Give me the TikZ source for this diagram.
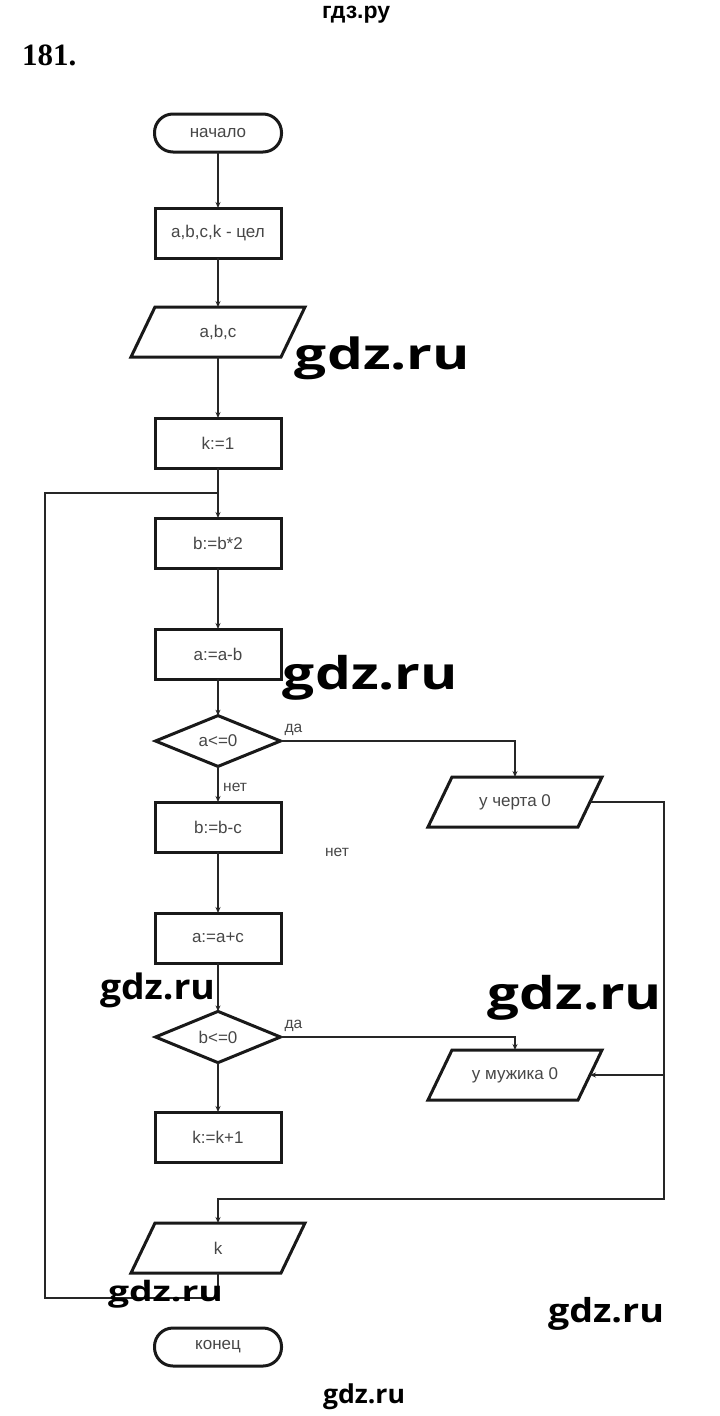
\documentclass[tikz,border=0pt]{standalone}
\usepackage{fontspec}
\setmainfont{Liberation Sans}
\newfontfamily\wmfont{Open Sans}
\newfontfamily\numfont{Liberation Serif}
\usetikzlibrary{shapes.geometric,arrows.meta,calc}
\newcommand\flowfont{\fontsize{17}{20}\selectfont}
\newcommand\labfont{\fontsize{15.5}{18}\selectfont}
\newcommand\wmtext{\wmfont\bfseries gdz.ru}
\tikzset{
  bord/.style={draw=black!90, line width=3pt, line join=miter},
  proc/.style={bord, rectangle, minimum width=126pt, minimum height=50pt, inner sep=0pt, outer sep=0pt, font=\flowfont, text=black!72},
  term/.style={proc, rounded corners=18.5pt, minimum width=127pt, minimum height=38pt},
  dec/.style={bord, diamond, minimum width=125pt, minimum height=48pt, inner sep=0pt, outer sep=0pt, font=\flowfont, text=black!72},
  io/.style={rectangle, minimum width=150pt, minimum height=50pt, inner sep=0pt, outer sep=0pt, font=\flowfont, text=black!72},
  conn/.style={draw=black!85, line width=2.4pt},
  arr/.style={-{Stealth[length=6pt,width=5pt]}},
  lab/.style={font=\labfont, text=black!72, inner sep=1pt},
  wm/.style={inner sep=0pt, outer sep=0pt}
}
\newcommand\iobox[3]{%
  \node[io] (#1) at (#2) {#3};
  \draw[bord] ($(#1.north west)+(12,0)$) -- ($(#1.north east)+(12,0)$) -- ($(#1.south east)+(-12,0)$) -- ($(#1.south west)+(-12,0)$) -- cycle;}
\begin{document}
\begin{tikzpicture}[x=1pt,y=-1pt]
\fill[white] (0,0) rectangle (720,1416);
\useasboundingbox (0,0) rectangle (720,1416);

% header
\node[anchor=base west, inner sep=0pt] (hdr) at (322,18) {\fontsize{23}{27}\selectfont\bfseries гдз.ру};
\node[anchor=base west, inner sep=0pt] (num) at (22,65) {\numfont\fontsize{31}{36}\selectfont\bfseries 181.};

% main column
\node[term] (start) at (218,133) {начало};
\node[proc] (decl) at (218,233) {a,b,c,k - цел};
\iobox{inp}{218,332}{a,b,c}
\node[proc] (k1) at (218,443) {k:=1};
\node[proc] (b2) at (218,543) {b:=b*2};
\node[proc] (amb) at (218,654) {a:=a-b};
\node[dec] (d1) at (218,741) {a<=0};
\node[proc] (bbc) at (218,827) {b:=b-c};
\node[proc] (aac) at (218,938) {a:=a+c};
\node[dec] (d2) at (218,1037) {b<=0};
\node[proc] (kk) at (218,1137) {k:=k+1};
\iobox{outk}{218,1248}{k}
\node[term] (end) at (218,1347) {конец};

% right column
\iobox{ch}{515,802}{у черта 0}
\iobox{mu}{515,1075}{у мужика 0}

% free label
\node[lab] (net2) at (337,852) {нет};

% coordinates
\coordinate (j1) at (218,493);
\coordinate (c1) at (664,1199);
\coordinate (lb) at (45,1298);

% connectors
\draw[conn,arr] (start) -- (decl);
\draw[conn,arr] (decl) -- (inp);
\draw[conn,arr] (inp) -- (k1);
\draw[conn,arr] (k1) -- (b2);
\draw[conn,arr] (b2) -- (amb);
\draw[conn,arr] (amb) -- (d1);
\draw[conn,arr] (d1.south) -- node[lab, anchor=west, pos=0.6, xshift=3pt] (net1) {нет} (bbc.north);
\draw[conn,arr] (bbc) -- (aac);
\draw[conn,arr] (aac) -- (d2);
\draw[conn,arr] (d2) -- (kk);
\draw[conn,arr] (d1.east) -| (ch.north);
\node[lab, anchor=south west] (da1) at ($(d1.east)+(3,-4)$) {да};
\draw[conn,arr] (d2.east) -| (mu.north);
\node[lab, anchor=south west] (da2) at ($(d2.east)+(3,-4)$) {да};
\draw[conn,arr] (ch.east) -| (c1) -- (outk.north |- c1) -- (outk.north);
\draw[conn,arr] (c1 |- mu.east) -- (mu.east);
\draw[conn] (outk.south) -- (outk.south |- lb) -- (lb) -- (lb |- j1) -- (j1);

% watermarks
\node[wm] (w1) at (382.5,358.5) {\resizebox*{175pt}{43pt}{\wmtext}};
\node[wm] (w2) at (370.5,677.5) {\resizebox*{175pt}{45pt}{\wmtext}};
\node[wm] (w3) at (157.5,990.5) {\resizebox*{115pt}{35pt}{\wmtext}};
\node[wm] (w4) at (575,997.5) {\resizebox*{174pt}{45pt}{\wmtext}};
\node[wm] (w5) at (165.5,1294) {\resizebox*{115pt}{28pt}{\wmtext}};
\node[wm] (w6) at (606,1313.5) {\resizebox*{116pt}{33pt}{\wmtext}};
\node[wm] (w7) at (364,1397) {\resizebox*{82pt}{26pt}{\wmtext}};
\end{tikzpicture}
\end{document}
